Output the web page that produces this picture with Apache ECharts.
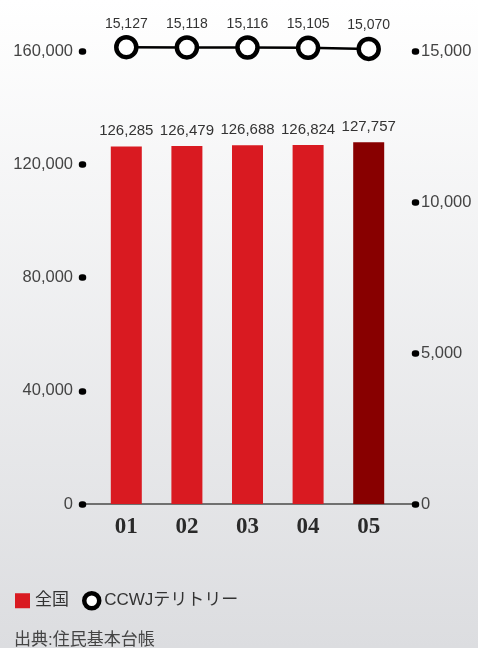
<!DOCTYPE html>
<html>
<head>
<meta charset="utf-8">
<script src="https://cdn.jsdelivr.net/npm/echarts@6/dist/echarts.min.js"></script>
<style>
  html, body { margin: 0; padding: 0; }
  #chart { width: 478px; height: 648px; }
</style>
</head>
<body>
<div id="chart"></div>
<script>
// Population by year: nationwide (thousands) vs. CCWJ territory (thousands)
const years = ['01', '02', '03', '04', '05'];
const nationalValues = [126285, 126479, 126688, 126824, 127757];
const territoryValues = [15127, 15118, 15116, 15105, 15070];
const leftTicks = { min: 0, max: 160000, interval: 40000 };
const rightTicks = { min: 0, max: 15000, interval: 5000 };

const RED = '#d91a21';
const DARK_RED = '#880000';
const SANS = "'Liberation Sans', 'Noto Sans CJK JP', sans-serif";
const fmt = v => v.toLocaleString('en-US');

const chart = echarts.init(document.getElementById('chart'));

// short, thick, round-capped ticks read as dots
const dotTick = {
  show: true,
  length: 1,
  lineStyle: { color: '#000', width: 6.5, cap: 'round' }
};

chart.setOption({
  backgroundColor: new echarts.graphic.LinearGradient(0, 0, 0, 1, [
    { offset: 0, color: '#ffffff' },
    { offset: 1, color: '#dcdde0' }
  ]),
  animation: false,
  title: {
    text: '出典:住民基本台帳',
    left: 9,
    top: 627,
    textStyle: { fontFamily: SANS, fontSize: 17, fontWeight: 'normal', color: '#444' }
  },
  legend: {
    left: 10,
    top: 586,
    itemWidth: 15,
    itemHeight: 15,
    itemGap: 13,
    textStyle: { fontFamily: SANS, fontSize: 17, color: '#333' },
    data: [
      { name: '全国', icon: 'rect', itemStyle: { color: RED } },
      { name: 'CCWJテリトリー', icon: 'circle',
        itemStyle: { color: '#fff', borderColor: '#000', borderWidth: 4.5 } }
    ]
  },
  grid: [
    // plotting area for the bars and the line
    { left: 96, right: 79, top: 51, bottom: 144 },
    // wider frame carrying the dotted value axes and the baseline
    { left: 83, right: 63, top: 51, bottom: 144 }
  ],
  xAxis: [
    {
      gridIndex: 0,
      type: 'category',
      data: years,
      axisLine: { show: false },
      axisTick: { show: false },
      axisLabel: {
        margin: 12,
        fontFamily: "'Liberation Serif', serif",
        fontWeight: 'bold',
        fontSize: 23,
        color: '#2a2a2a'
      }
    },
    {
      gridIndex: 1,
      type: 'value',
      min: 0,
      max: 1,
      axisLine: { show: true, lineStyle: { color: '#4a4a4a', width: 1.5 } },
      axisTick: { show: false },
      axisLabel: { show: false },
      splitLine: { show: false }
    }
  ],
  yAxis: [
    {
      gridIndex: 0, type: 'value',
      min: leftTicks.min, max: leftTicks.max, interval: leftTicks.interval,
      show: false
    },
    {
      gridIndex: 0, type: 'value',
      min: rightTicks.min, max: rightTicks.max, interval: rightTicks.interval,
      show: false
    },
    {
      gridIndex: 1, type: 'value', position: 'left',
      min: leftTicks.min, max: leftTicks.max, interval: leftTicks.interval,
      axisLine: { show: false },
      axisTick: dotTick,
      splitLine: { show: false },
      axisLabel: {
        margin: 10,
        fontFamily: SANS, fontSize: 16.5, color: '#444',
        formatter: v => fmt(v)
      }
    },
    {
      gridIndex: 1, type: 'value', position: 'right',
      min: rightTicks.min, max: rightTicks.max, interval: rightTicks.interval,
      axisLine: { show: false },
      axisTick: dotTick,
      splitLine: { show: false },
      axisLabel: {
        margin: 6,
        fontFamily: SANS, fontSize: 16.5, color: '#444',
        formatter: v => fmt(v)
      }
    }
  ],
  series: [
    {
      name: '全国',
      type: 'bar',
      xAxisIndex: 0,
      yAxisIndex: 0,
      barWidth: 31,
      data: nationalValues.map((v, i) => ({
        value: v,
        itemStyle: { color: i === nationalValues.length - 1 ? DARK_RED : RED }
      })),
      itemStyle: { color: RED },
      label: {
        show: true,
        position: 'top',
        distance: 8,
        fontFamily: SANS,
        fontSize: 15,
        color: '#333',
        formatter: p => fmt(p.value)
      }
    },
    {
      name: 'CCWJテリトリー',
      type: 'line',
      xAxisIndex: 0,
      yAxisIndex: 1,
      data: territoryValues,
      clip: false,
      symbol: 'circle',
      symbolSize: 20,
      lineStyle: { color: '#000', width: 2.5 },
      itemStyle: { color: '#fff', borderColor: '#000', borderWidth: 4.5 },
      label: {
        show: true,
        position: 'top',
        distance: 4,
        fontFamily: SANS,
        fontSize: 14,
        color: '#333',
        formatter: p => fmt(p.value)
      },
      z: 5
    }
  ]
});
</script>
</body>
</html>
